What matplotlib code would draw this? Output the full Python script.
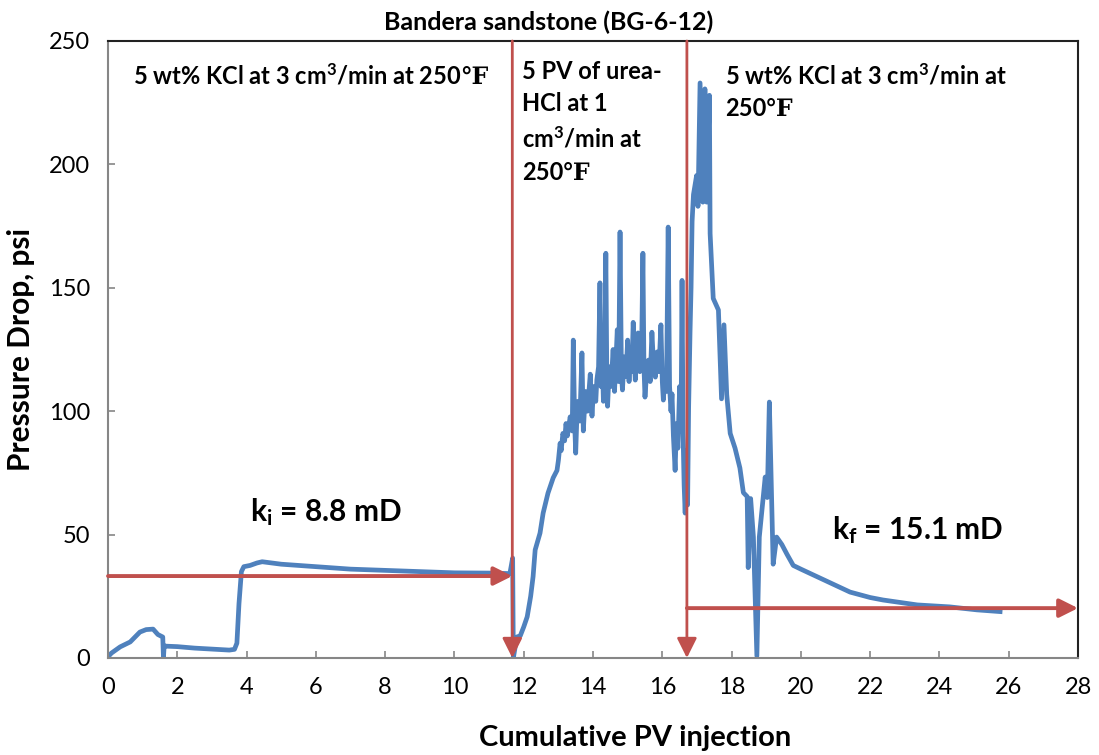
import matplotlib.pyplot as plt

plt.rcParams['font.family'] = ['Lato', 'DejaVu Serif']
plt.rcParams['mathtext.fontset'] = 'custom'
plt.rcParams['mathtext.rm'] = 'Lato:bold'
plt.rcParams['mathtext.it'] = 'Lato:bold'
plt.rcParams['mathtext.bf'] = 'Lato:bold'

# Cumulative PV injection vs pressure drop (psi)
pv = [
    0.00, 0.10, 0.35, 0.64, 0.92, 1.10, 1.30, 1.44, 1.58, 1.60, 1.62, 1.66,
    2.00, 2.50, 3.00, 3.50, 3.65, 3.72, 3.78, 3.85, 3.92, 4.10, 4.30, 4.45,
    5.00, 6.00, 7.00, 8.00, 9.00, 10.00, 11.00, 11.60, 11.68, 11.70, 11.80,
    11.90, 12.00, 12.10, 12.20, 12.27, 12.33, 12.47, 12.56, 12.70, 12.85,
    12.96, 13.00, 13.05, 13.08, 13.13, 13.18, 13.22, 13.26,
    13.30, 13.34, 13.40, 13.43, 13.47, 13.50, 13.54, 13.57, 13.62, 13.68,
    13.72, 13.78, 13.84, 13.92, 13.97, 14.02, 14.08, 14.11, 14.16, 14.20,
    14.23, 14.27, 14.30, 14.34, 14.37, 14.40, 14.42, 14.47, 14.52, 14.58,
    14.62, 14.66, 14.70, 14.74, 14.78, 14.82, 14.85, 14.90, 14.95, 15.00,
    15.04, 15.08, 15.12, 15.16, 15.20, 15.22, 15.26, 15.30, 15.35, 15.40,
    15.44, 15.47, 15.50, 15.55, 15.60, 15.65, 15.70, 15.75, 15.80, 15.85,
    15.90, 15.96, 16.00, 16.03, 16.08, 16.12, 16.17, 16.21, 16.25, 16.28,
    16.32, 16.37, 16.41, 16.45, 16.50, 16.54, 16.57, 16.60, 16.63, 16.66,
    16.70, 16.73, 16.76, 16.80, 16.83, 16.86, 16.90, 16.99, 17.03, 17.09,
    17.17, 17.23, 17.28, 17.36, 17.38, 17.47, 17.57, 17.62, 17.71, 17.78,
    17.86, 17.96, 18.10, 18.24, 18.34, 18.45, 18.48, 18.55, 18.63, 18.73,
    18.80, 18.97, 19.03, 19.09, 19.20, 19.30, 19.45, 19.60, 19.78, 20.00,
    20.46, 21.00, 21.42, 22.00, 22.37, 23.00, 23.36, 24.30, 25.08, 25.75,
]
dp = [
    0.5, 2.0, 4.5, 6.5, 10.5, 11.5, 11.7, 9.5, 8.5, 0.0, 5.0, 4.8,
    4.6, 4.0, 3.6, 3.2, 3.5, 6.0, 22.0, 35.0, 37.0, 37.5, 38.5, 39.0,
    38.0, 37.0, 36.0, 35.5, 35.0, 34.5, 34.4, 34.2, 40.5, 0.0, 8.5,
    9.0, 12.6, 16.7, 25.0, 33.0, 43.8, 50.6, 58.7, 66.8, 73.0,
    76.0, 80.0, 87.0, 84.0, 91.0, 88.0, 95.0, 90.0,
    94.0, 97.7, 92.0, 128.8, 95.0, 83.0, 100.0, 104.0, 96.0, 123.6,
    92.0, 108.0, 100.0, 115.0, 98.0, 110.0, 104.0, 112.6, 118.0, 152.0,
    110.0, 120.0, 104.0, 125.0, 164.0, 112.0, 102.0, 118.0, 110.0, 125.0,
    108.0, 120.0, 133.0, 112.0, 172.6, 115.0, 108.6, 122.0, 114.0, 128.8,
    112.0, 124.0, 116.0, 136.0, 118.0, 112.6, 124.0, 131.7, 116.0, 122.0,
    164.0, 118.0, 105.7, 116.0, 120.7, 112.0, 132.0, 118.0, 113.8, 124.0,
    116.0, 135.0, 112.0, 104.5, 115.0, 108.0, 174.6, 110.0, 100.0, 107.0,
    90.0, 76.0, 95.0, 85.0, 110.0, 92.0, 153.0, 90.0, 70.0, 58.7,
    84.0, 62.0, 101.7, 131.7, 150.0, 176.9, 187.8, 195.5, 183.0, 233.0,
    184.7, 230.6, 184.7, 228.0, 172.0, 145.7, 142.6, 141.0, 105.0, 135.0,
    106.7, 91.0, 85.0, 77.0, 67.0, 65.4, 36.6, 64.6, 49.0, 0.8,
    49.0, 73.3, 65.0, 103.7, 38.0, 49.0, 46.0, 42.0, 37.5, 36.0,
    33.0, 29.5, 26.7, 24.5, 23.5, 22.2, 21.5, 20.7, 19.5, 18.8,
]

# Stage boundaries and permeability levels
x_acid_start = 11.67
x_acid_end = 16.71
ki_level = 33.2
kf_level = 20.2

blue = '#4F81BD'
red = '#C0504D'

fig = plt.figure(figsize=(10.99, 7.55), dpi=100)
ax = fig.add_axes([0.0983, 0.1285, 0.8826, 0.8172])

ax.plot(pv, dp, color=blue, lw=3.4, solid_joinstyle='round', zorder=2)

ax.set_xlim(0, 28)
ax.set_ylim(0, 250)
ax.set_xticks(range(0, 29, 2))
ax.set_yticks(range(0, 251, 50))
ax.tick_params(axis='both', direction='in', length=5, width=1.2,
               color='#868686', labelsize=17)
ax.tick_params(axis='y', pad=13)
ax.tick_params(axis='x', pad=14)

for side in ['left', 'bottom']:
    ax.spines[side].set_color('#868686')
    ax.spines[side].set_linewidth(1.5)
for side in ['top', 'right']:
    ax.spines[side].set_color('#222222')
    ax.spines[side].set_linewidth(1.5)

arrow = dict(arrowstyle='-|>', color=red, lw=2.8, mutation_scale=28,
             shrinkA=0, shrinkB=0)
varrow = dict(arrowstyle='-|>', color=red, lw=2.0, mutation_scale=30,
              shrinkA=0, shrinkB=0)

ax.annotate('', xy=(x_acid_start, ki_level), xytext=(0, ki_level),
            arrowprops=arrow, zorder=3)
ax.annotate('', xy=(28, kf_level), xytext=(x_acid_end, kf_level),
            arrowprops=arrow, annotation_clip=False, zorder=3)
ax.annotate('', xy=(x_acid_start, 0), xytext=(x_acid_start, 250),
            arrowprops=varrow, annotation_clip=False, zorder=3)
ax.annotate('', xy=(x_acid_end, 0), xytext=(x_acid_end, 250),
            arrowprops=varrow, annotation_clip=False, zorder=3)

ax.set_title('Bandera sandstone (BG-6-12)', fontsize=18, fontweight='bold',
             x=0.454, pad=8)
ax.set_xlabel('Cumulative PV injection', fontsize=21, fontweight='bold')
ax.xaxis.set_label_coords(0.543, -0.108)
ax.set_ylabel('Pressure Drop, psi', fontsize=21.5, fontweight='bold',
              labelpad=10)

cm3 = r'cm$^\mathregular{3}$'
t1 = ax.text(0.72, 236, '5 wt% KCl at 3 ' + cm3 + '/min at 250',
             fontsize=17, fontweight='bold', va='center')
ax.annotate('\u2109', xy=(1, 0), xycoords=t1, fontsize=17,
            fontweight='bold', va='bottom', ha='left')
ax.text(11.95, 242.5, '5 PV of urea-\nHCl at 1\n' + cm3 + '/min at\n250\u2109',
        fontsize=17, fontweight='bold', va='top', linespacing=1.5)
ax.text(17.8, 241, '5 wt% KCl at 3 ' + cm3 + '/min at\n250\u2109', fontsize=17,
        fontweight='bold', va='top', linespacing=1.4)

ax.text(4.1, 59, r'k$_\mathregular{i}$ = 8.8 mD', fontsize=21.5,
        fontweight='bold', va='center')
ax.text(20.9, 52, r'k$_\mathregular{f}$ = 15.1 mD', fontsize=21.5,
        fontweight='bold', va='center')

plt.savefig('out.png', dpi=100)
